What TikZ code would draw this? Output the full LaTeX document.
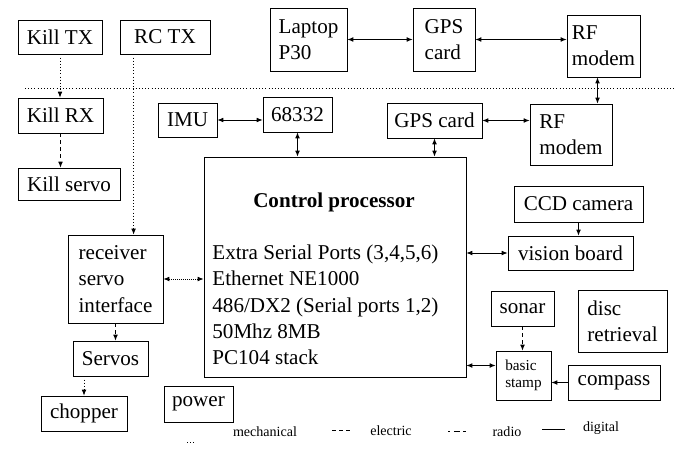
\documentclass[tikz,border=0pt]{standalone}
\usepackage{fontspec}
\setmainfont{Liberation Serif}
\usetikzlibrary{arrows.meta,calc}
\begin{document}
\begin{tikzpicture}[x=0.03cm, y=-0.03cm, line width=0.7pt, >={Latex[length=5pt,width=4pt]},
  every node/.style={font=\fontsize{18}{22.5}\selectfont},
  box/.style={draw, align=left, inner sep=2pt},
  elec/.style={dashed},
  mech/.style={dotted},
  legtext/.style={font=\fontsize{12}{14}\selectfont}]
  \useasboundingbox (0,0) rectangle (675,453);
  % ground station
  \node[box, minimum width=2.31cm, minimum height=1.89cm] (laptop) at (308.5,39.5) {Laptop\\P30};
  \node[box, minimum width=1.86cm, minimum height=1.89cm] (gpstop) at (444,39.5) {GPS\\card};
  \node[box, minimum width=2.19cm, minimum height=1.86cm] (rftop) at (603.5,46) {RF\\modem};
  \node[box, minimum width=2.52cm, minimum height=1.02cm] (killtx) at (60,37) {Kill TX};
  \node[box, minimum width=2.7cm, minimum height=1.02cm] (rctx) at (165,37) {RC TX};
  \draw[dotted] (25,88) -- (675,88);
  % helicopter
  \node[box, minimum width=2.55cm, minimum height=1.05cm] (killrx) at (60.5,115.5) {Kill RX};
  \node[box, minimum width=3.06cm, minimum height=0.96cm] (killservo) at (69,184) {Kill servo};
  \node[box, minimum width=1.77cm, minimum height=1.02cm] (imu) at (187.5,120) {IMU};
  \node[box, minimum width=2.07cm, minimum height=1.05cm] (m68332) at (297.5,114.5) {68332};
  \node[box, minimum width=2.85cm, minimum height=1.05cm] (gpsmid) at (434.5,120.5) {GPS card};
  \node[box, minimum width=2.46cm, minimum height=1.83cm] (rfmid) at (571,134.5) {RF\\modem};
  \node[box, minimum width=7.86cm, minimum height=6.6cm] (cpu) at (335,267) {};
  \node[font=\fontsize{18}{22.5}\selectfont\bfseries] (cputitle) at (334,202) {Control processor};
  \node[align=left, anchor=west, inner sep=0pt] (cpulist) at (212,305) {Extra Serial Ports (3,4,5,6)\\Ethernet NE1000\\486/DX2 (Serial ports 1,2)\\50Mhz 8MB\\PC104 stack};
  \node[box, minimum width=3.87cm, minimum height=1.08cm] (ccd) at (578.5,204) {CCD camera};
  \node[box, minimum width=3.75cm, minimum height=1.02cm] (vision) at (570.5,253) {vision board};
  \node[box, minimum width=1.89cm, minimum height=1.05cm] (sonar) at (522.5,308.5) {sonar};
  \node[box, minimum width=2.67cm, minimum height=1.86cm] (disc) at (622.5,321) {disc\\retrieval};
  \node[box, minimum width=1.65cm, minimum height=1.47cm, font=\fontsize{13}{15}\selectfont] (stamp) at (523.5,375.5) {basic\\stamp};
  \node[box, minimum width=2.76cm, minimum height=1.05cm] (compass) at (614,382.5) {compass};
  \node[box, minimum width=2.85cm, minimum height=2.64cm] (receiver) at (115.5,279) {receiver\\servo\\interface};
  \node[box, minimum width=2.25cm, minimum height=1.05cm] (servos) at (110.5,358.5) {Servos};
  \node[box, minimum width=2.58cm, minimum height=1.05cm] (chopper) at (84,413.5) {chopper};
  \node[box, minimum width=2.07cm, minimum height=1.08cm] (power) at (198.5,404) {power};
  % links
  \draw[<->] (laptop.east) -- (laptop.east -| gpstop.west);
  \draw[<->] (gpstop.east) -- (gpstop.east -| rftop.west);
  \coordinate (rflink) at ($(rftop.south)+(-6,0)$);
  \draw[<->] (rflink) -- (rflink |- rfmid.north);
  \draw[->, mech] (killtx.south) -- (killtx.south |- killrx.north);
  \draw[->, elec] (killrx.south) -- (killrx.south |- killservo.north);
  \coordinate (rcfoot) at ($(rctx.south west)+(14,0)$);
  \draw[->, mech] (rcfoot) -- (rcfoot |- receiver.north);
  \draw[<->] (imu.east) -- (imu.east -| m68332.west);
  \draw[<->] (m68332.south) -- (m68332.south |- cpu.north);
  \draw[<->] (gpsmid.south) -- (gpsmid.south |- cpu.north);
  \draw[<->] (gpsmid.east) -- (gpsmid.east -| rfmid.west);
  \draw[->] (ccd.south) -- (ccd.south |- vision.north);
  \draw[<->] (vision.west) -- (vision.west -| cpu.east);
  \draw[<->, densely dotted] (receiver.east) -- (receiver.east -| cpu.west);
  \draw[->, elec] (receiver.south) -- (receiver.south |- servos.north);
  \draw[->, mech] (servos.south -| chopper.north) -- (chopper.north);
  \draw[->, elec] (sonar.south) -- (sonar.south |- stamp.north);
  \draw[->] (compass.west) -- (compass.west -| stamp.east);
  \coordinate (stamplink) at ($(stamp.west)+(0,-10)$);
  \draw[<->] (stamplink) -- (stamplink -| cpu.east);
  % legend
  \draw[mech] (187,442) -- (196,442);
  \node[legtext] (legmech) at (265,432) {mechanical};
  \draw[elec] (332,430) -- (351,430);
  \node[legtext] (legelec) at (391,431) {electric};
  \draw[dash pattern=on 2pt off 3pt on 5pt off 3pt] (448,431) -- (468,431);
  \node[legtext] (legradio) at (507,432) {radio};
  \draw (542,429) -- (565,429);
  \node[legtext] (legdig) at (601,428) {digital};
\end{tikzpicture}
\end{document}
